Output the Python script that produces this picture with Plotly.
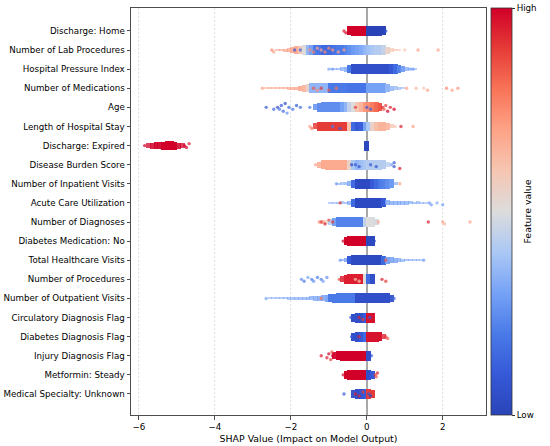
import math
import plotly.graph_objects as go

# ---------------- data ----------------
features = [
    "Discharge: Home", "Number of Lab Procedures", "Hospital Pressure Index",
    "Number of Medications", "Age", "Length of Hospital Stay", "Discharge: Expired",
    "Disease Burden Score", "Number of Inpatient Visits", "Acute Care Utilization",
    "Number of Diagnoses", "Diabetes Medication: No", "Total Healthcare Visits",
    "Number of Procedures", "Number of Outpatient Visits", "Circulatory Diagnosis Flag",
    "Diabetes Diagnosis Flag", "Injury Diagnosis Flag", "Metformin: Steady",
    "Medical Specialty: Unknown",
]

# dense cores of the swarms, binned in 0.1-wide SHAP bins:
# feature index, centre of first bin, relative density per bin, mean feature value per bin
seg_feature = [0, 1, 2, 3, 4, 5, 6, 6, 7, 8, 9, 10, 11, 12, 13, 14, 15, 16, 17, 18, 19]
seg_start = [-0.45, -2.35, -0.95, -2.65, -1.35, -1.35, -5.75, 0.0, -1.25, -0.75, -0.95,
             -1.15, -0.55, -0.65, -0.65, -2.55, -0.35, -0.35, -0.85, -0.55, -0.35]
seg_density = [
    [0.9, 1, 1, 1, 1, 1, 1, 1, 1, 0.9],
    [0.15, 0.2, 0.3, 0.45, 0.6, 0.75, 0.85, 0.95, 1, 1, 1, 1, 1, 1, 1, 1, 1, 1, 1, 1,
     1, 1, 1, 1, 1, 1, 1, 1, 0.95, 0.7, 0.4, 0.25, 0.15],
    [0.1, 0.15, 0.25, 0.35, 0.5, 0.8, 1, 1, 1, 1, 1, 1, 1, 1, 1, 1, 1, 0.95, 0.8, 0.6,
     0.4, 0.25, 0.12],
    [0.1, 0.12, 0.15, 0.18, 0.2, 0.22, 0.25, 0.3, 0.35, 0.5, 0.7, 0.85, 1, 1, 1, 1, 1, 1,
     1, 1, 1, 1, 1, 1, 1, 1, 1, 1, 1, 1, 1, 1, 0.8, 0.55, 0.4, 0.3, 0.2],
    [0.6, 0.85, 1, 1, 1, 1, 1, 1, 1, 1, 1, 1, 1, 1, 1, 1, 1, 0.8],
    [0.6, 0.9, 1, 1, 1, 1, 1, 1, 1, 1, 1, 1, 1, 1, 1, 1, 1, 1, 1, 0.7, 0.4],
    [0.45, 0.6, 0.7, 0.7, 0.8, 0.85, 0.85, 0.8, 0.6, 0.45],
    [1],
    [0.6, 0.85, 1, 1, 1, 1, 1, 1, 1, 1, 1, 1, 1, 1, 1, 1, 1, 0.85, 0.5],
    [0.15, 0.2, 0.3, 0.5, 0.85, 1, 1, 1, 1, 1, 1, 1, 1, 1, 0.9, 0.3],
    [0.1, 0.12, 0.15, 0.2, 0.25, 0.4, 0.8, 1, 1, 1, 1, 1, 1, 1, 0.9, 0.5, 0.45, 0.4,
     0.4, 0.35, 0.35, 0.3, 0.25, 0.2, 0.15, 0.1],
    [0.35, 0.45, 0.6, 0.8, 1, 1, 1, 1, 1, 1, 1, 1, 1, 1, 0.7],
    [0.85, 1, 1, 1, 1, 1, 1, 1],
    [0.2, 0.4, 0.8, 1, 1, 1, 1, 1, 1, 1, 1, 0.9, 0.75, 0.6, 0.5, 0.35, 0.3, 0.25, 0.2,
     0.18, 0.15, 0.1],
    [0.6, 0.85, 1, 1, 1, 1, 1, 1, 1],
    [0.1, 0.12, 0.15, 0.18, 0.2, 0.22, 0.25, 0.28, 0.3, 0.32, 0.35, 0.4, 0.45, 0.5, 0.6,
     0.7, 0.8, 0.9, 1, 1, 1, 1, 1, 1, 1, 1, 1, 1, 1, 1, 1, 1, 0.7],
    [0.8, 1, 1, 1, 1, 1],
    [0.8, 1, 1, 1, 1, 1, 1, 0.85, 0.5],
    [0.7, 0.9, 1, 1, 1, 1, 1, 1, 1, 1],
    [0.85, 1, 1, 1, 1, 1, 1, 0.85],
    [0.75, 1, 1, 1, 1, 0.9],
]
seg_color = [
    [1, 1, 1, 1, 1, 0, 0, 0, 0, 0],
    [0.72, 0.72, 0.72, 0.7, 0.7, 0.68, 0.6, 0.5, 0.35, 0.3, 0.2, 0.18, 0.15, 0.15, 0.15,
     0.18, 0.2, 0.2, 0.22, 0.25, 0.28, 0.3, 0.32, 0.35, 0.38, 0.4, 0.42, 0.42, 0.45, 0.55,
     0.6, 0.62, 0.62],
    [0.3, 0.3, 0.3, 0.3, 0.3, 0.2, 0.05, 0.05, 0.05, 0.05, 0.05, 0.05, 0.05, 0.05, 0.05,
     0.05, 0.1, 0.15, 0.22, 0.25, 0.3, 0.3, 0.3],
    [0.72, 0.72, 0.72, 0.72, 0.72, 0.72, 0.72, 0.72, 0.72, 0.72, 0.65, 0.55, 0.35, 0.35,
     0.35, 0.35, 0.35, 0.2, 0.2, 0.2, 0.2, 0.2, 0.18, 0.18, 0.18, 0.18, 0.18, 0.3, 0.3,
     0.3, 0.3, 0.3, 0.35, 0.35, 0.35, 0.35, 0.35],
    [0.25, 0.25, 0.25, 0.25, 0.25, 0.25, 0.25, 0.3, 0.35, 0.45, 0.5, 0.6, 0.65, 0.72,
     0.75, 0.78, 0.82, 0.85],
    [0.9, 0.9, 0.9, 0.9, 0.9, 0.9, 0.9, 0.9, 0.9, 0.6, 0.15, 0.1, 0.12, 0.3, 0.4, 0.55,
     0.62, 0.65, 0.65, 0.65, 0.62],
    [1, 1, 1, 1, 1, 1, 1, 1, 1, 1],
    [0.02],
    [0.68, 0.68, 0.68, 0.68, 0.68, 0.68, 0.68, 0.68, 0.55, 0.4, 0.35, 0.38, 0.4, 0.42,
     0.42, 0.42, 0.42, 0.42, 0.42],
    [0.3, 0.3, 0.3, 0.3, 0.15, 0.03, 0.03, 0.03, 0.03, 0.1, 0.15, 0.2, 0.22, 0.25, 0.28,
     0.3],
    [0.3, 0.3, 0.3, 0.3, 0.3, 0.3, 0.15, 0.03, 0.03, 0.03, 0.03, 0.03, 0.03, 0.03, 0.1,
     0.3, 0.3, 0.3, 0.3, 0.3, 0.3, 0.3, 0.3, 0.3, 0.3, 0.3],
    [0.7, 0.55, 0.4, 0.3, 0.22, 0.22, 0.22, 0.22, 0.22, 0.22, 0.22, 0.45, 0.5, 0.5, 0.48],
    [1, 1, 1, 1, 1, 1, 0.02, 0.02],
    [0.25, 0.25, 0.1, 0.03, 0.03, 0.03, 0.03, 0.03, 0.03, 0.03, 0.03, 0.15, 0.3, 0.3,
     0.3, 0.3, 0.3, 0.3, 0.3, 0.3, 0.3, 0.3],
    [0.95, 0.95, 0.95, 0.95, 0.95, 0.95, 0.5, 0.15, 0.05],
    [0.3, 0.3, 0.3, 0.3, 0.3, 0.3, 0.3, 0.3, 0.3, 0.3, 0.3, 0.3, 0.3, 0.3, 0.3, 0.3, 0.2,
     0.2, 0.2, 0.2, 0.2, 0.2, 0.2, 0.05, 0.05, 0.05, 0.05, 0.05, 0.05, 0.05, 0.05, 0.05,
     0.05],
    [0.05, 0.05, 0.05, 0.1, 0.97, 0.97],
    [0.05, 0.05, 0.1, 0.15, 0.97, 0.97, 0.97, 0.97, 0.95],
    [1, 1, 1, 1, 1, 1, 1, 1, 1, 0.05],
    [1, 1, 1, 1, 1, 1, 0.05, 0.1],
    [0.05, 0.05, 0.08, 0.1, 0.9, 0.9],
]

# sparse individual points (SHAP value, feature value) per feature
pts_shap = [
    [-0.55, -0.6, 0.5],
    [-2.5, -2.45, -1.5, -1.3, -1.1, -0.9, -0.75, -0.6, -1.4, -1.2, -1.0, -1.9, -1.75, 1.0, 1.35, 1.88],
    [-1.0, -0.9, 1.15, 1.22],
    [-2.75, -1.4, -1.3, -1.2, -1.0, -0.8, 1.05, 1.3, 1.5, 1.6, 2.1, 2.25, 2.4],
    [-2.65, -2.45, -2.35, -2.3, -2.25, -2.2, -2.15, -2.1, -2.05, -1.95, -1.85, -1.75, -1.5,
     -0.3, 0.0, 0.1, 0.42, 0.45, 0.5, 0.55, 0.62, 0.72],
    [-1.5, -1.45, -0.9, -0.7, 0.75, 0.9, 1.22],
    [-5.85, -4.8, -4.75, -4.68],
    [-1.35, -0.4, -0.3, -0.2, 0.1, 0.25, 0.65, 0.72, 0.72, 0.87],
    [-0.8, 0.87],
    [-0.7, 1.65, 1.7, 1.85, 2.0],
    [-1.25, -1.2, -1.1, -1.0, -0.9, 0.3, 1.62, 2.0, 2.05, 2.72],
    [-0.62, 0.2],
    [-0.7, 0.5, 1.5],
    [-1.72, -1.65, -1.55, -1.45, -1.4, -1.3, -1.2, -1.15, -1.05, -0.72, -0.3, -0.2, 0.4, 0.5],
    [-2.65, -1.2, 0.72],
    [-0.42, -0.2, -0.1, 0.08],
    [-0.4, -0.2, 0.5, 0.55],
    [-1.2, -1.05, -1.0, -0.95, -0.92, -0.9, 0.12],
    [-0.62, 0.22, 0.25, 0.28],
    [-0.6, -0.3, -0.2, -0.1, 0.05, 0.1],
]
pts_value = [
    [1, 0.95, 0.05],
    [0.75, 0.7, 0.75, 0.7, 0.75, 0.72, 0.7, 0.7, 0.78, 0.7, 0.75, 0.1, 0.15, 0.6, 0.7, 0.7],
    [0.35, 0.3, 0.32, 0.3],
    [0.7, 0.85, 0.75, 0.9, 0.85, 0.8, 0.7, 0.65, 0.6, 0.7, 0.75, 0.7, 0.72],
    [0.1, 0.15, 0.05, 0.2, 0.1, 0.15, 0.05, 0.25, 0.1, 0.2, 0.1, 0.15, 0.2,
     0.9, 0.1, 0.15, 0.95, 0.85, 0.9, 1, 0.95, 1],
    [0.7, 0.8, 0.2, 0.1, 0.6, 0.95, 0.7],
    [1, 1, 1, 0.95],
    [0.7, 0.05, 0.1, 0.05, 0.1, 0.05, 0.3, 0.05, 0.1, 0.95],
    [0.3, 0.7],
    [0.9, 0.28, 0.3, 0.32, 0.3],
    [0.75, 0.9, 0.95, 0.85, 0.9, 0.7, 0.95, 0.7, 0.65, 0.7],
    [1, 0.05],
    [0.3, 0.85, 0.3],
    [0.25, 0.2, 0.3, 0.2, 0.25, 0.2, 0.2, 0.3, 0.25, 0.9, 0.6, 0.6, 0.95, 0.9],
    [0.3, 0.8, 0.15],
    [0.1, 0.95, 0.9, 0.1],
    [0.1, 0.95, 0.9, 0.85],
    [0.95, 0.95, 1, 0.9, 0.85, 1, 0.1],
    [1, 0.9, 0.85, 0.95],
    [0.1, 0.95, 0.95, 0.9, 0.1, 0.05],
]

x_ticks = [-6, -4, -2, 0, 2]

# ---------------- styling ----------------
BIN = 0.1
OVERLAP = 1.25       # draw each bin slightly wider so neighbours join without seams
ROW_BAND = 0.52      # full thickness of a dense band, in row units
LAYER = 0.1          # vertical step between stacked sparse points
SWARM_BIN = 0.3      # x-width used to stack sparse points
colorscale = [
    [0.0, "#2a44b8"], [0.1, "#3659d8"], [0.2, "#4a7ae8"], [0.3, "#76a2f6"],
    [0.4, "#abc8f5"], [0.5, "#dcdcdc"], [0.6, "#f6c6b2"], [0.7, "#fda387"],
    [0.8, "#f87458"], [0.9, "#e63c38"], [1.0, "#d10028"],
]
FONT = "DejaVu Sans"

# ---------------- build bands ----------------
b_y, b_base, b_len, b_w, b_c, b_op = [], [], [], [], [], []
for f, s, dens, cols in zip(seg_feature, seg_start, seg_density, seg_color):
    for i, (d, c) in enumerate(zip(dens, cols)):
        centre = s + i * BIN
        b_y.append(f)
        b_base.append(centre - BIN * OVERLAP / 2)
        b_len.append(BIN * OVERLAP)
        b_w.append(d * ROW_BAND)
        b_c.append(c)
        b_op.append(min(1.0, 0.4 + 0.75 * d))

# ---------------- build sparse points with a simple swarm layering ----------------
p_x, p_y, p_c = [], [], []
for f, (xs, vs) in enumerate(zip(pts_shap, pts_value)):
    order = sorted(range(len(xs)), key=lambda k: xs[k])
    last_bin, layer = None, 0
    for k in order:
        b = math.floor(xs[k] / SWARM_BIN)
        if b != last_bin:
            layer = 0
        off = math.ceil(layer / 2) * (1 if layer % 2 else -1) * LAYER
        layer += 1
        last_bin = b
        p_x.append(xs[k])
        p_y.append(f + off)
        p_c.append(vs[k])

fig = go.Figure()
fig.add_trace(go.Bar(
    orientation="h", y=b_y, x=b_len, base=b_base, width=b_w,
    marker=dict(
        color=b_c, colorscale=colorscale, cmin=0, cmax=1, opacity=b_op,
        line=dict(width=0),
        colorbar=dict(
            x=1.0141, xanchor="left", xpad=0, y=0.5, yanchor="middle", ypad=0,
            len=1, lenmode="fraction", thickness=21, thicknessmode="pixels",
            outlinewidth=0.8, outlinecolor="#333333",
            tickvals=[0, 1], ticktext=["Low", "High"], ticks="outside", ticklen=3,
            tickcolor="#333333", tickfont=dict(family=FONT, size=8.7, color="black"),
            title=dict(text="Feature value", side="right",
                       font=dict(family=FONT, size=9.4, color="black")),
        ),
    ),
    hoverinfo="skip", showlegend=False,
))
fig.add_trace(go.Scatter(
    x=p_x, y=p_y, mode="markers",
    marker=dict(color=p_c, colorscale=colorscale, cmin=0, cmax=1, size=3.4,
                opacity=0.7, line=dict(width=0), showscale=False),
    hoverinfo="skip", showlegend=False,
))

fig.update_layout(
    width=550, height=446,
    margin=dict(l=131, r=64, t=8, b=31, autoexpand=False),
    plot_bgcolor="white", paper_bgcolor="white",
    barmode="overlay", bargap=0,
    font=dict(family=FONT, size=8.7, color="black"),
)
fig.update_xaxes(
    range=[-6.21, 3.14], tickvals=x_ticks,
    showgrid=True, gridcolor="#e2e2e2", griddash="2px,2px", gridwidth=1,
    zeroline=True, zerolinecolor="#a8a8a8", zerolinewidth=1.8,
    showline=True, mirror=True, linecolor="#4d4d4d", linewidth=1,
    ticks="outside", ticklen=3.5, tickcolor="#4d4d4d",
    tickfont=dict(family=FONT, size=8.7, color="black"),
    title=dict(text="SHAP Value (Impact on Model Output)", standoff=4,
               font=dict(family=FONT, size=9.4, color="black")),
    automargin=False,
)
fig.update_yaxes(
    range=[20.1, -1.2], tickvals=list(range(len(features))), ticktext=features,
    showgrid=False, zeroline=False,
    showline=True, mirror=True, linecolor="#4d4d4d", linewidth=1,
    ticks="outside", ticklen=3.5, tickcolor="#4d4d4d",
    tickfont=dict(family=FONT, size=8.7, color="black"),
    automargin=False,
)

fig.write_html(
    "out.html",
    config={"displayModeBar": False},
    post_script="document.body.style.margin='0';document.body.style.padding='0';",
)
